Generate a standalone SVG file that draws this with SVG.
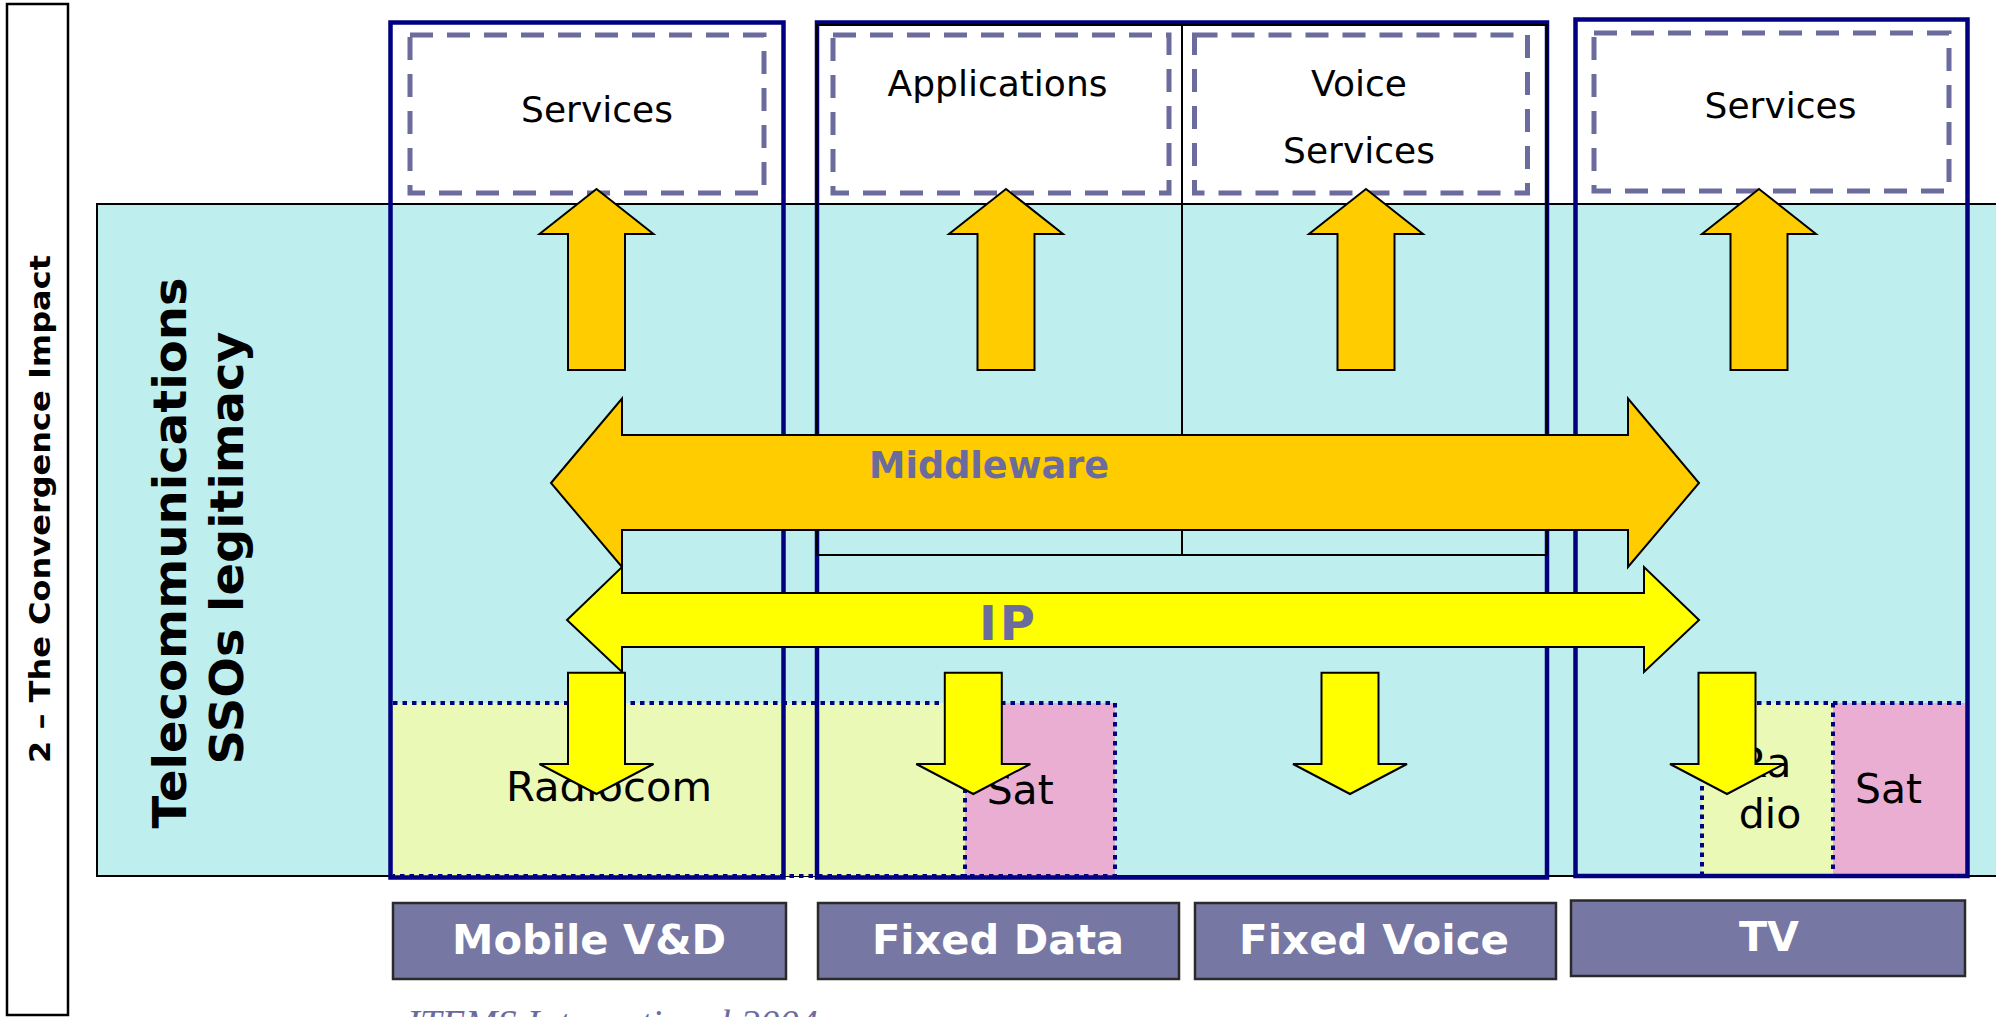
<svg xmlns="http://www.w3.org/2000/svg" width="1996" height="1017" viewBox="0 0 1996 1017">
  <style>
    .frame { fill: none; stroke: #000080; stroke-width: 4.5; }
    .svc { fill: #ffffff; stroke: #6b6b9e; stroke-width: 5; stroke-dasharray: 23 14; }
    .dot { fill: none; stroke: #000080; stroke-width: 4; stroke-dasharray: 4.5 5; }
    .thin { fill: none; stroke: #000000; stroke-width: 2; }
    .up { fill: #ffcc00; stroke: #000000; stroke-width: 2; stroke-linejoin: miter; }
    .mw { fill: #ffcc00; stroke: #000000; stroke-width: 2; }
    .ip { fill: #ffff00; stroke: #000000; stroke-width: 2; }
    .down { fill: #ffff00; stroke: #000000; stroke-width: 2; }
    .label { fill: #7777a3; stroke: #2a2a2a; stroke-width: 2.5; }
    .t { font-family: "DejaVu Sans", Verdana, sans-serif; fill: #000000; }
    .top { font-size: 36px; text-anchor: middle; }
    .low { font-size: 41px; }
    .lbl { font-size: 40px; font-weight: bold; fill: #ffffff; text-anchor: middle; }
    .side { font-weight: bold; text-anchor: middle; }
    .slate { fill: #6b6b9e; font-weight: bold; }
  </style>
  <defs>
    <polygon id="upArrow" points="0,0 57,45 28.5,45 28.5,181 -28.5,181 -28.5,45 -57,45"/>
    <polygon id="downArrow" points="-28.5,0 28.5,0 28.5,91.3 57,91.3 0,121.3 -57,91.3 -28.5,91.3"/>
  </defs>

  <!-- outer title strip -->
  <g id="title-strip">
    <rect x="7" y="4" width="61" height="1011" fill="#ffffff" stroke="#000000" stroke-width="2.5"/>
    <text class="t side" font-size="28.5" transform="translate(50,509) rotate(-90)" textLength="508" lengthAdjust="spacingAndGlyphs">2 – The Convergence Impact</text>
  </g>

  <!-- SSO legitimacy band -->
  <g id="sso-band">
    <rect x="97" y="204" width="1920" height="672" fill="#bfeeee" stroke="#000000" stroke-width="2"/>
    <text class="t side" font-size="47" transform="translate(186,553) rotate(-90)" textLength="551" lengthAdjust="spacingAndGlyphs">Telecommunications</text>
    <text class="t side" font-size="47" transform="translate(243,548) rotate(-90)" textLength="433" lengthAdjust="spacingAndGlyphs">SSOs legitimacy</text>
  </g>

  <!-- access networks -->
  <g id="access-radiocom-sat">
    <rect x="393" y="703" width="572" height="173" fill="#eaf9b5"/>
    <rect x="965" y="703" width="150" height="173" fill="#eaaed3"/>
    <path class="dot" d="M393,703 H1115 V876 H393 M965,703 V876"/>
    <text class="t low" x="609" y="800.6" text-anchor="middle" textLength="206" lengthAdjust="spacingAndGlyphs">Radiocom</text>
    <text class="t low" x="986.7" y="804" textLength="67" lengthAdjust="spacingAndGlyphs">Sat</text>
  </g>
  <g id="access-tv">
    <rect x="1702" y="703" width="131" height="173" fill="#eaf9b5"/>
    <rect x="1833" y="703" width="133" height="173" fill="#eaaed3"/>
    <path class="dot" d="M1702,876 V703 H1966 M1833,703 V876"/>
    <text class="t low" x="1765" y="777.3" text-anchor="middle">Ra</text>
    <text class="t low" x="1770" y="828.3" text-anchor="middle">dio</text>
    <text class="t low" x="1855" y="803.3" textLength="67" lengthAdjust="spacingAndGlyphs">Sat</text>
  </g>

  <!-- market frames -->
  <g id="frame-mobile"><rect class="frame" x="390.5" y="22.5" width="393" height="855"/></g>
  <g id="frame-fixed">
    <rect class="frame" x="817" y="22.5" width="730" height="855"/>
    <rect class="thin" x="817" y="25" width="730" height="530"/>
    <line class="thin" x1="1182" y1="25" x2="1182" y2="555"/>
  </g>
  <g id="frame-tv"><rect class="frame" x="1575.5" y="19.5" width="392" height="856.5"/></g>

  <!-- service boxes -->
  <g id="svc-mobile">
    <rect class="svc" x="410" y="35" width="354" height="158"/>
    <text class="t top" x="597" y="121.7">Services</text>
  </g>
  <g id="svc-applications">
    <rect class="svc" x="833" y="35" width="336" height="158"/>
    <text class="t top" x="997.5" y="96">Applications</text>
  </g>
  <g id="svc-voice">
    <rect class="svc" x="1194.5" y="35" width="333" height="158"/>
    <text class="t top" x="1359" y="96">Voice</text>
    <text class="t top" x="1359" y="162.7">Services</text>
  </g>
  <g id="svc-tv">
    <rect class="svc" x="1594" y="33" width="355" height="158"/>
    <text class="t top" x="1780.5" y="118.3">Services</text>
  </g>

  <!-- arrows -->
  <g id="connectors">
    <use href="#upArrow" class="up" x="596.5" y="189"/>
    <use href="#upArrow" class="up" x="1006" y="189"/>
    <use href="#upArrow" class="up" x="1366" y="189"/>
    <use href="#upArrow" class="up" x="1759" y="189"/>

    <polygon class="mw" points="551,483 622,398.5 622,435 1628,435 1628,398.5 1699,483 1628,567 1628,530 622,530 622,567"/>
    <polygon class="ip" points="567,620 622,567 622,593 1644,593 1644,567 1699,620 1644,672 1644,647 622,647 622,672"/>

    <use href="#downArrow" class="down" x="596.5" y="672.7"/>
    <use href="#downArrow" class="down" x="973.3" y="672.7"/>
    <use href="#downArrow" class="down" x="1350" y="672.7"/>
    <use href="#downArrow" class="down" x="1727" y="672.7"/>
  </g>

  <g id="layer-middleware">
    <text class="t slate" x="869" y="478.3" font-size="36.7" textLength="240" lengthAdjust="spacingAndGlyphs">Middleware</text>
  </g>
  <g id="layer-ip">
    <text class="t slate" x="979" y="640" font-size="48" textLength="56" lengthAdjust="spacing">IP</text>
  </g>

  <!-- market labels -->
  <g id="label-mobile">
    <rect class="label" x="393" y="903" width="393" height="76"/>
    <text class="t lbl" x="589" y="954" textLength="274" lengthAdjust="spacingAndGlyphs">Mobile V&amp;D</text>
  </g>
  <g id="label-fixed-data">
    <rect class="label" x="818" y="903" width="361" height="76"/>
    <text class="t lbl" x="998" y="954" textLength="252" lengthAdjust="spacingAndGlyphs">Fixed Data</text>
  </g>
  <g id="label-fixed-voice">
    <rect class="label" x="1195" y="903" width="361" height="76"/>
    <text class="t lbl" x="1374" y="954" textLength="270" lengthAdjust="spacingAndGlyphs">Fixed Voice</text>
  </g>
  <g id="label-tv">
    <rect class="label" x="1571" y="900.5" width="394" height="75.5"/>
    <text class="t lbl" x="1769" y="951" textLength="60" lengthAdjust="spacingAndGlyphs">TV</text>
  </g>

  <!-- source line -->
  <text x="407" y="1036" font-family="'Liberation Serif', 'Times New Roman', serif" font-style="italic" font-size="37" fill="#6b6b9e" textLength="411" lengthAdjust="spacingAndGlyphs">ITEMS International 2004</text>
</svg>
